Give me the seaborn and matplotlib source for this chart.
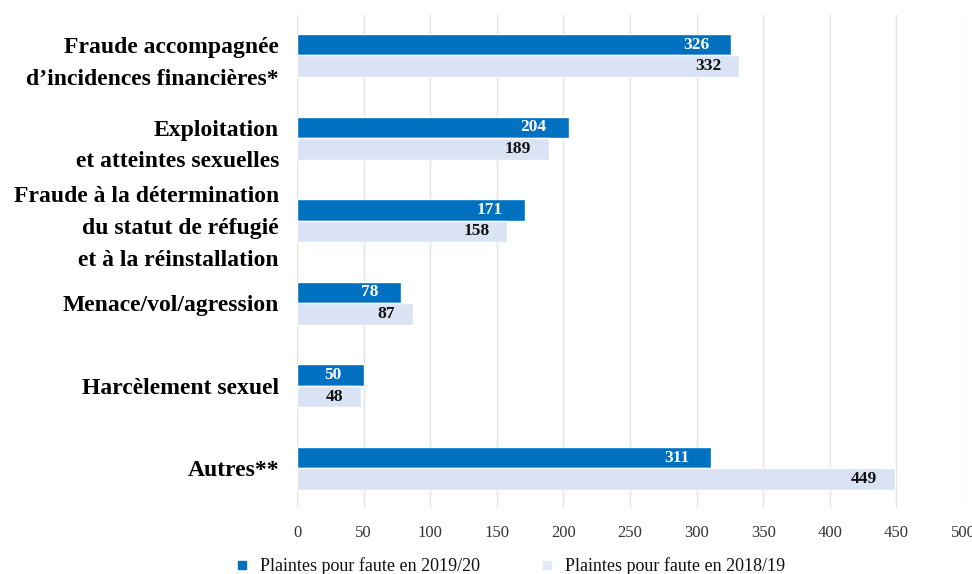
import matplotlib
matplotlib.use("Agg")
import matplotlib.pyplot as plt
import seaborn as sns
import pandas as pd
from matplotlib.lines import Line2D

categories = [
    "Fraude accompagnée\nd’incidences financières*",
    "Exploitation\net atteintes sexuelles",
    "Fraude à la détermination\ndu statut de réfugié\net à la réinstallation",
    "Menace/vol/agression",
    "Harcèlement sexuel",
    "Autres**",
]
series_names = ["Plaintes pour faute en 2019/20", "Plaintes pour faute en 2018/19"]
values_2019_20 = [326, 204, 171, 78, 50, 311]
values_2018_19 = [332, 189, 158, 87, 48, 449]
x_ticks = [0, 50, 100, 150, 200, 250, 300, 350, 400, 450, 500]

dark = "#0070c0"
light = "#dae3f3"

df = pd.DataFrame({
    "cat": categories * 2,
    "val": values_2019_20 + values_2018_19,
    "series": [series_names[0]] * len(categories) + [series_names[1]] * len(categories),
})

sns.set_theme(style="white")
plt.rcParams["font.family"] = ["Liberation Serif", "DejaVu Serif"]

fig = plt.figure(figsize=(9.72, 5.74), dpi=100)
ax = fig.add_axes([297 / 972, 1 - 508 / 574, (963 - 297) / 972, (508 - 15) / 574])

sns.barplot(data=df, y="cat", x="val", hue="series", orient="h",
            palette=[dark, light], width=0.52, ax=ax, legend=False,
            order=categories, hue_order=series_names, saturation=1)

ax.set_xlim(0, 500)
ax.set_ylim(5.48, -0.49)
ax.set_xticks(x_ticks)
ax.set_xticklabels([str(t) for t in x_ticks], fontsize=12, color="#333333")
ax.grid(axis="x", color="#e3e3e3", linewidth=1)
ax.set_axisbelow(True)
for s in ax.spines.values():
    s.set_visible(False)
ax.tick_params(axis="x", length=0, pad=12)
ax.tick_params(axis="y", length=0, pad=13)
ax.set_xlabel("")
ax.set_ylabel("")
for lab in ax.get_yticklabels():
    lab.set_fontsize(17)
    lab.set_fontweight("bold")
    lab.set_color("black")
    lab.set_multialignment("right")
    lab.set_linespacing(1.68)

text_colors = ["white", "#111111"]
offsets = [-16, -13]
for cont, tc, off in zip(ax.containers, text_colors, offsets):
    for bar in cont:
        w = bar.get_width()
        yc = bar.get_y() + bar.get_height() / 2
        ax.annotate(f"{int(round(w))}", xy=(w, yc), xytext=(off, 0),
                    textcoords="offset points", ha="right", va="center",
                    fontsize=12.5, fontweight="bold", color=tc)

handles = [
    Line2D([], [], marker="s", linestyle="", color=dark, markersize=6),
    Line2D([], [], marker="s", linestyle="", color="#e6ecf7", markersize=6),
]
leg = fig.legend(handles, series_names, loc="center", bbox_to_anchor=(509 / 972, 1 - 566 / 574),
                 ncol=2, frameon=False, fontsize=13, handletextpad=0.5, columnspacing=3.2,
                 handlelength=1)
for t in leg.get_texts():
    t.set_color("#111111")

fig.savefig("out.png", dpi=100)
